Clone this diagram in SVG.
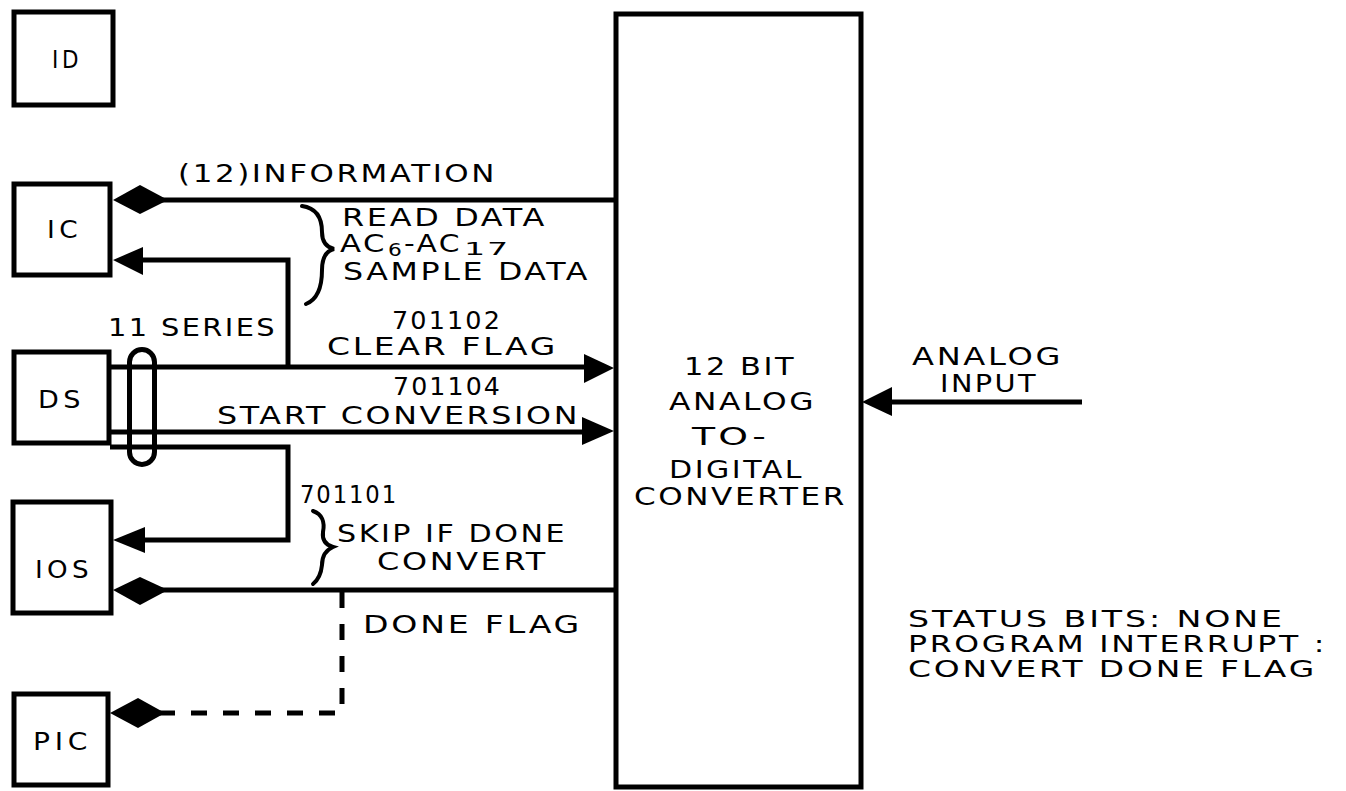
<svg xmlns="http://www.w3.org/2000/svg" width="1346" height="791" viewBox="0 0 1346 791">
<style>
.box{fill:none;stroke:#000;stroke-width:5}
.ln{fill:none;stroke:#000;stroke-width:5}
.dash{fill:none;stroke:#000;stroke-width:5;stroke-dasharray:16 16}
.hd{fill:#000;stroke:none}
.br{fill:none;stroke:#000;stroke-width:4;stroke-linecap:round}
text{font-family:"DejaVu Sans","Liberation Sans",sans-serif;font-size:24px;letter-spacing:2px;fill:#000}
.nl{font-size:24px;letter-spacing:4px}
.sb{font-size:18px;letter-spacing:1px}
.st{font-size:23px}
</style>
<rect width="1346" height="791" fill="#fff"/>
<g id="node-ID"><rect class="box" x="14" y="12" width="99" height="93"/><text class="nl" x="52" y="68" textLength="30" lengthAdjust="spacingAndGlyphs">ID</text></g>
<g id="node-IC"><rect class="box" x="14" y="184" width="96" height="91"/><text class="nl" x="47" y="238" textLength="35" lengthAdjust="spacingAndGlyphs">IC</text></g>
<g id="node-DS"><rect class="box" x="14" y="352" width="95" height="91"/><text class="nl" x="38" y="408" textLength="47" lengthAdjust="spacingAndGlyphs">DS</text></g>
<g id="node-IOS"><rect class="box" x="13" y="502" width="98" height="111"/><text class="nl" x="35" y="578" textLength="58" lengthAdjust="spacingAndGlyphs">IOS</text></g>
<g id="node-PIC"><rect class="box" x="14" y="694" width="94" height="91"/><text class="nl" x="33" y="750" textLength="59" lengthAdjust="spacingAndGlyphs">PIC</text></g>
<g id="node-ADC"><rect class="box" x="616" y="14" width="245" height="773"/>
<text x="684" y="375" textLength="112" lengthAdjust="spacingAndGlyphs">12 BIT</text>
<text x="669" y="410" textLength="147" lengthAdjust="spacingAndGlyphs">ANALOG</text>
<text x="692" y="445" textLength="77" lengthAdjust="spacingAndGlyphs">TO-</text>
<text x="669" y="478" textLength="135" lengthAdjust="spacingAndGlyphs">DIGITAL</text>
<text x="634" y="505" textLength="213" lengthAdjust="spacingAndGlyphs">CONVERTER</text>
</g>
<g id="connectors">
<line class="ln" x1="160" y1="200" x2="616" y2="200"/>
<path class="hd" d="M113,200 L140,185 L168,200 L140,214 Z"/>
<polyline class="ln" points="140,260 288,260 288,367"/>
<path class="hd" d="M113,260 L143,247 L143,275 Z"/>
<line class="ln" x1="110" y1="367" x2="590" y2="367"/>
<path class="hd" d="M614,368 L584,354 L584,383 Z"/>
<line class="ln" x1="110" y1="432" x2="588" y2="432"/>
<path class="hd" d="M614,431 L582,417 L582,445 Z"/>
<polyline class="ln" points="110,447 288,447 288,540 140,540"/>
<path class="hd" d="M113,540 L145,527 L145,553 Z"/>
<line class="ln" x1="160" y1="590" x2="616" y2="590"/>
<path class="hd" d="M113,590 L140,577 L168,590 L140,605 Z"/>
<polyline class="dash" points="342,592 342,713 160,713"/>
<path class="hd" d="M110,713 L138,698 L165,713 L138,728 Z"/>
<rect x="129.5" y="349.5" width="25" height="115" rx="12.5" class="ln"/>
<line class="ln" x1="885" y1="402" x2="1082" y2="402"/>
<path class="hd" d="M862,402 L892,387 L892,416 Z"/>
<path class="br" d="M302,206 C316,208 322,218 322,232 C322,242 326,247 334,249 C326,251 322,258 322,270 C322,290 316,300 306,304"/>
<path class="br" d="M313,511 C322,514 325,522 323,532 C322,540 326,545 333,547 C326,550 322,556 322,565 C321,575 318,580 313,584"/>
</g>
<g id="labels">
<text x="178" y="182" textLength="319" lengthAdjust="spacingAndGlyphs">(12)INFORMATION</text>
<text x="342" y="226" textLength="205" lengthAdjust="spacingAndGlyphs">READ DATA</text>
<text x="340" y="252" textLength="47" lengthAdjust="spacingAndGlyphs">AC</text>
<text class="sb" x="388" y="256" textLength="15" lengthAdjust="spacingAndGlyphs">6</text>
<text x="404" y="252" textLength="58" lengthAdjust="spacingAndGlyphs">-AC</text>
<text class="sb" x="464" y="255" textLength="46" lengthAdjust="spacingAndGlyphs">17</text>
<text x="343" y="280" textLength="247" lengthAdjust="spacingAndGlyphs">SAMPLE DATA</text>
<text x="108" y="336" textLength="169" lengthAdjust="spacingAndGlyphs">11 SERIES</text>
<text x="392" y="329" textLength="110" lengthAdjust="spacingAndGlyphs">701102</text>
<text x="327" y="355" textLength="231" lengthAdjust="spacingAndGlyphs">CLEAR FLAG</text>
<text x="393" y="395" textLength="109" lengthAdjust="spacingAndGlyphs">701104</text>
<text x="217" y="424" textLength="363" lengthAdjust="spacingAndGlyphs">START CONVERSION</text>
<text x="300" y="503" textLength="98" lengthAdjust="spacingAndGlyphs">701101</text>
<text x="337" y="542" textLength="230" lengthAdjust="spacingAndGlyphs">SKIP IF DONE</text>
<text x="377" y="570" textLength="171" lengthAdjust="spacingAndGlyphs">CONVERT</text>
<text x="363" y="633" textLength="219" lengthAdjust="spacingAndGlyphs">DONE FLAG</text>
<text x="912" y="365" textLength="151" lengthAdjust="spacingAndGlyphs">ANALOG</text>
<text x="940" y="392" textLength="98" lengthAdjust="spacingAndGlyphs">INPUT</text>
<text class="st" x="908" y="627" textLength="377" lengthAdjust="spacingAndGlyphs">STATUS BITS: NONE</text>
<text class="st" x="908" y="652" textLength="419" lengthAdjust="spacingAndGlyphs">PROGRAM INTERRUPT :</text>
<text class="st" x="908" y="677" textLength="409" lengthAdjust="spacingAndGlyphs">CONVERT DONE FLAG</text>
</g>
</svg>
